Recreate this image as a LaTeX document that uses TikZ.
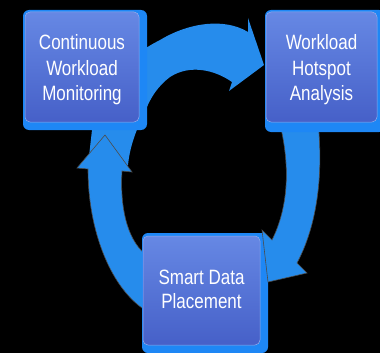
\documentclass[tikz,border=0pt]{standalone}
\usepackage{fontspec}
\setmainfont{Liberation Sans}
\definecolor{edgeblue}{RGB}{30,135,245}
\definecolor{arrowblue}{RGB}{38,140,236}
\definecolor{boxtop}{RGB}{102,136,228}
\definecolor{boxbot}{RGB}{70,96,200}
\tikzset{
  edgebox/.style={fill=edgeblue, rounded corners=6pt, inner sep=0pt},
  box/.style={top color=boxtop, bottom color=boxbot, rounded corners=5pt, inner sep=0pt,
              draw=boxtop!70!white, line width=0.5pt},
  lbl/.style={text=white, inner sep=0pt},
  cyc/.style={fill=arrowblue},
  cycline/.style={fill=arrowblue, draw=black!70, line width=0.6pt},
}
\newcommand\boxlines[1]{\scalebox{1}[1.22]{\begin{tabular}{@{}c@{}}#1\end{tabular}}}
\begin{document}
\begin{tikzpicture}[x=1pt,y=-1pt]
\fill[black] (0,0) rectangle (380,353);
\useasboundingbox (0,0) rectangle (380,353);
\clip (0,0) rectangle (380,353);
% top arrow: monitoring -> analysis
\fill[cyc] (88,165) -- (92,130) .. controls (96,85) and (125,58) .. (160,40)
  .. controls (190,22) and (225,18) .. (248,32) -- (248,18) -- (264,65) -- (229,91) -- (232,82)
  .. controls (215,70) and (190,64) .. (170,77) .. controls (158,86) and (150,98) .. (145,112)
  .. controls (137,128) and (130,145) .. (128,165) -- cycle;
% left arrow: placement -> monitoring
\filldraw[cycline] (150,312) -- (142,308)
  .. controls (110,285) and (88,230) .. (88,169) -- (77,168) -- (105,135) -- (132,172) -- (122,171)
  .. controls (120,205) and (126,238) .. (145,254) -- (150,254) -- cycle;
% box: smart data placement
\node[edgebox, minimum width=126pt, minimum height=120pt] (plcE) at (205,293) {};
\node[box, minimum width=117pt, minimum height=109pt] (plc) at (201.5,290.5) {};
\node[lbl, font=\fontsize{17}{19.7}\selectfont] (plcT) at (201.5,292) {\boxlines{Smart Data\\Placement}};
% right arrow: analysis -> placement
\filldraw[cycline] (273,100) -- (315,100) .. controls (325,160) and (320,220) .. (297,263)
  -- (307,273) -- (268,282) -- (262,230) -- (272,240)
  .. controls (292,200) and (290,150) .. (273,100) -- cycle;
% box: workload hotspot analysis
\node[edgebox, minimum width=120pt, minimum height=122pt] (hotE) at (325,71) {};
\node[box, minimum width=111pt, minimum height=110pt] (hot) at (321.5,67) {};
\node[lbl, font=\fontsize{17}{20.5}\selectfont] (hotT) at (321.5,70) {\boxlines{Workload\\Hotspot\\Analysis}};
% box: continuous workload monitoring
\node[edgebox, minimum width=124pt, minimum height=120pt] (monE) at (85,70) {};
\node[box, minimum width=114pt, minimum height=110pt] (mon) at (82,67) {};
\node[lbl, font=\fontsize{17}{20.5}\selectfont] (monT) at (82,70) {\boxlines{Continuous\\Workload\\Monitoring}};
\end{tikzpicture}
\end{document}
